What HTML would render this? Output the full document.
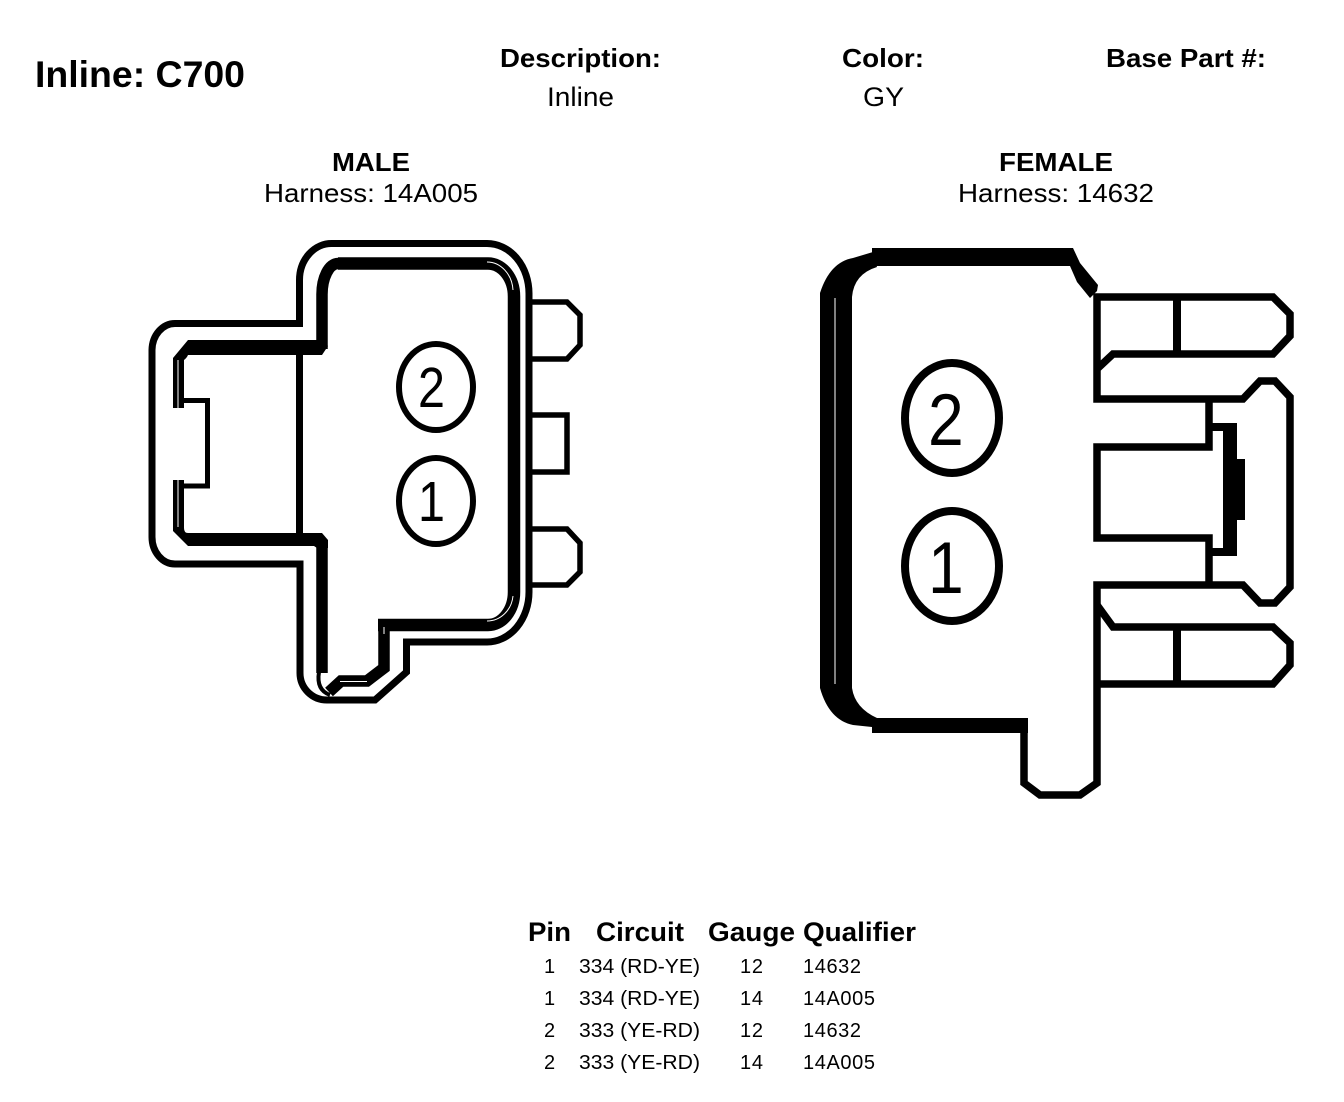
<!DOCTYPE html>
<html><head><meta charset="utf-8"><style>
html,body{margin:0;padding:0;background:#fff;width:1344px;height:1102px;overflow:hidden}
svg{display:block}
text{font-family:"Liberation Sans",sans-serif;fill:#000}
.b{font-weight:bold}
.l{fill:none;stroke:#000;stroke-linejoin:miter}
.w{fill:none;stroke:#fff}
</style></head><body>
<svg width="1344" height="1102" viewBox="0 0 1344 1102" xmlns="http://www.w3.org/2000/svg">
<text class="b" x="35" y="87" font-size="37" textLength="210" lengthAdjust="spacingAndGlyphs">Inline: C700</text>
<text class="b" x="500" y="67" font-size="26" textLength="161" lengthAdjust="spacingAndGlyphs">Description:</text>
<text x="547" y="106" font-size="27" textLength="67" lengthAdjust="spacingAndGlyphs">Inline</text>
<text class="b" x="842" y="67" font-size="26" textLength="82" lengthAdjust="spacingAndGlyphs">Color:</text>
<text x="863" y="106" font-size="27" textLength="41" lengthAdjust="spacingAndGlyphs">GY</text>
<text class="b" x="1106" y="67" font-size="26" textLength="160" lengthAdjust="spacingAndGlyphs">Base Part #:</text>
<text class="b" x="332" y="171" font-size="26" textLength="78" lengthAdjust="spacingAndGlyphs">MALE</text>
<text x="264" y="202" font-size="26" textLength="214" lengthAdjust="spacingAndGlyphs">Harness: 14A005</text>
<text class="b" x="999" y="171" font-size="26" textLength="114" lengthAdjust="spacingAndGlyphs">FEMALE</text>
<text x="958" y="202" font-size="26" textLength="196" lengthAdjust="spacingAndGlyphs">Harness: 14632</text>

<!-- MALE -->
<path class="l" stroke-width="7" d="M332 243.500H487A42 50 0 0 1 529 293.500V592A42 50 0 0 1 487 642H406.500V672L375 700H327A27 27 0 0 1 300 673V564H175A23 27 0 0 1 152 537V350A23 27 0 0 1 175 323.500H299.500V280A32 36.500 0 0 1 332 243.500Z"/>
<path class="l" stroke-width="12.500" d="M338 263.500H488A26 33 0 0 1 514 296.500V592A26 33 0 0 1 488 625H378"/>
<path class="w" stroke-width="1" d="M487 262A26 30 0 0 1 513 290M513 596A26 28 0 0 1 487 621"/>
<path class="l" stroke-width="11.500" d="M322 673V543L318 538M322 349V295A16 31 0 0 1 338 263.500"/>
<path d="M188 340H322L328 346L322 355H188A15 12 0 0 1 184 360V408H173V358Z" fill="#000"/>
<path d="M188 533H322L328 540V548H317L314 546H188L173 531V480H184V528Q184 533 188 533Z" fill="#000"/>
<path class="w" stroke-width="1" d="M178 360V408M178 480V527"/>
<path class="l" stroke-width="5" d="M182 400.500H207.500V486H182"/>
<path class="l" stroke-width="7" d="M299.500 347V540"/>
<path class="l" stroke-width="11.500" d="M384 622V668L367 681H341L329 692"/>
<path class="l" stroke-width="4" d="M319 672Q316 690 330 695"/>
<path class="w" stroke-width="1" d="M384 627V634M340 681.500H367"/>
<path class="l" stroke-width="5.500" d="M532 302H567L580 315V345L567 359H532M532 415H567V472H532M532 529H567L580 543V572L567 585H532"/>
<ellipse class="l" stroke-width="6" cx="436" cy="387" rx="37" ry="43"/>
<ellipse class="l" stroke-width="6" cx="436" cy="501" rx="37" ry="43"/>
<text transform="translate(418 407) scale(.85 1)" font-size="57">2</text>
<text transform="translate(418 521) scale(.85 1)" font-size="57">1</text>

<!-- FEMALE -->
<path d="M877 267Q854 274 852 297V688Q855 708 877 718L872 727L853 725Q829 720 820 688V293Q830 262 853 258L873 252Z" fill="#000"/>
<path d="M835 298V684" stroke="#fff" stroke-width="1" fill="none"/>
<path d="M872 248H1073L1080 263L1098 285L1097 291L1090 298L1077 282L1070 266H872Z" fill="#000"/>
<path d="M872 718H1028V733H872Z" fill="#000"/>
<path class="l" stroke-width="7.500" d="M1024 725V783L1040 795H1080L1097 783V585H1243L1260 603H1275L1290 587V397L1275 381H1260L1243 399H1097V297H1273L1290 314V336L1273 354H1113L1097 369"/>
<path class="l" stroke-width="7.500" d="M1097 605L1113 627H1273L1290 643V665L1273 684H1097"/>
<path class="l" stroke-width="8" d="M1177 297V354M1177 627V684"/>
<path class="l" stroke-width="7.500" d="M1209 399V447H1097V538H1209V585"/>
<path d="M1209 423H1237V459H1245V520H1237V556H1209V548H1223V431H1209Z" fill="#000"/>
<ellipse class="l" stroke-width="8" cx="952" cy="418" rx="47" ry="55"/>
<ellipse class="l" stroke-width="8" cx="952" cy="566" rx="47" ry="55"/>
<text transform="translate(928 445) scale(.88 1)" font-size="73">2</text>
<text transform="translate(928 593) scale(.88 1)" font-size="73">1</text>

<!-- TABLE -->
<text class="b" x="528" y="941" font-size="27" textLength="43" lengthAdjust="spacingAndGlyphs">Pin</text>
<text class="b" x="596" y="941" font-size="27" textLength="88" lengthAdjust="spacingAndGlyphs">Circuit</text>
<text class="b" x="708" y="941" font-size="27" textLength="87" lengthAdjust="spacingAndGlyphs">Gauge</text>
<text class="b" x="803" y="941" font-size="27" textLength="113" lengthAdjust="spacingAndGlyphs">Qualifier</text>
<g font-size="20">
<text x="544" y="973">1</text><text x="579" y="973" textLength="121" lengthAdjust="spacingAndGlyphs">334 (RD-YE)</text><text x="740" y="973" textLength="23">12</text><text x="803" y="973" textLength="58">14632</text>
<text x="544" y="1005">1</text><text x="579" y="1005" textLength="121" lengthAdjust="spacingAndGlyphs">334 (RD-YE)</text><text x="740" y="1005" textLength="23">14</text><text x="803" y="1005" textLength="72">14A005</text>
<text x="544" y="1037">2</text><text x="579" y="1037" textLength="121" lengthAdjust="spacingAndGlyphs">333 (YE-RD)</text><text x="740" y="1037" textLength="23">12</text><text x="803" y="1037" textLength="58">14632</text>
<text x="544" y="1069">2</text><text x="579" y="1069" textLength="121" lengthAdjust="spacingAndGlyphs">333 (YE-RD)</text><text x="740" y="1069" textLength="23">14</text><text x="803" y="1069" textLength="72">14A005</text>
</g>
</svg>
</body></html>
